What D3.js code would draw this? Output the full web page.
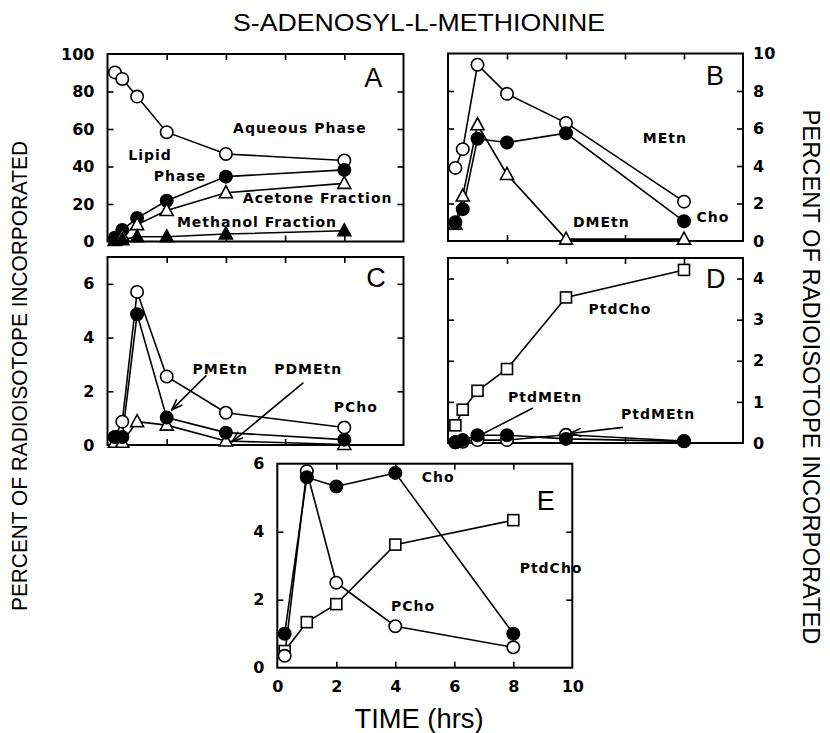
<!DOCTYPE html>
<html>
<head>
<meta charset="utf-8">
<script src="https://cdn.jsdelivr.net/npm/d3@7"></script>
<style>
  body { margin: 0; background: #fff; }
  text { fill: #000; }
</style>
</head>
<body>
<svg id="chart" width="830" height="733"></svg>
<script>
// data
var times = [0.25, 0.5, 1, 2, 4, 8],
    timesE = [0.25, 1, 2, 4, 8];

// A: % of label by phase
var aAqueous = [90.2, 86.7, 77.3, 58.3, 46.7, 43.2],
    aLipid = [2, 6.2, 12.5, 21.7, 34.6, 38.2],
    aAcetone = [1, 3, 9, 16.5, 26, 31],
    aMethanol = [0.5, 1, 2.5, 2.5, 4, 5.7];

// B: bases
var bMEtn = [3.9, 4.9, 9.4, 7.85, 6.3, 2.1],
    bCho = [1.0, 1.7, 5.45, 5.25, 5.75, 1.05],
    bDMEtn = [0.9, 2.4, 6.2, 3.55, 0.1, 0.1];

// C: phospho-bases
var cPCho = [0.3, 0.87, 5.7, 2.55, 1.2, 0.65],
    cPMEtn = [0.3, 0.3, 4.87, 1.02, 0.46, 0.2],
    cPDMEtn = [0.1, 0.1, 0.87, 0.74, 0.15, 0.02];

// D: phosphatides
var dPtdCho = [0.43, 0.81, 1.27, 1.8, 3.54, 4.21],
    dPtdMEtn = [0.02, 0.07, 0.19, 0.19, 0.1, 0.04],
    dPtdDMEtn = [0.02, 0.03, 0.07, 0.07, 0.2, 0.05];

// E: choline metabolites
var eCho = [1.0, 5.6, 5.33, 5.73, 1.0],
    ePCho = [0.35, 5.78, 2.5, 1.22, 0.6],
    ePtdCho = [0.49, 1.34, 1.87, 3.62, 4.34];

var xTicks = [0, 2, 4, 6, 8, 10],
    yTicksA = [0, 20, 40, 60, 80, 100],
    yTicksB = [0, 2, 4, 6, 8, 10],
    yTicksC = [0, 2, 4, 6],
    yTicksD = [0, 1, 2, 3, 4],
    yTicksE = [0, 2, 4, 6];

var svg = d3.select('#chart');

svg.append('defs').append('marker')
    .attr('id', 'arrow')
    .attr('viewBox', '0 0 12 10')
    .attr('refX', 11).attr('refY', 5)
    .attr('markerWidth', 12).attr('markerHeight', 10)
    .attr('markerUnits', 'userSpaceOnUse')
    .attr('orient', 'auto')
  .append('path')
    .attr('d', 'M0,1 L11,5 L0,9')
    .attr('fill', 'none')
    .attr('stroke', '#000')
    .attr('stroke-width', 1.6);

var panels = [
  { name: 'A', left: 107.5, top: 54, w: 296, h: 187.5, ymax: 100, yTicks: yTicksA, labelSide: 'left',
    series: [
      { t: times, v: aAqueous, m: 'circleOpen' },
      { t: times, v: aLipid, m: 'circleFilled' },
      { t: times, v: aAcetone, m: 'triOpen' },
      { t: times, v: aMethanol, m: 'triFilled' }
    ],
    notes: [
      ['Aqueous Phase', 6.5, 57.9], ['Lipid', 1.44, 43.5], ['Phase', 2.45, 32.3],
      ['Acetone Fraction', 7.1, 20.5], ['Methanol Fraction', 5.05, 7.7]
    ],
    letter: [8.98, 82.4], arrows: [] },
  { name: 'B', left: 448, top: 53.5, w: 295, h: 187.5, ymax: 10, yTicks: yTicksB, labelSide: 'right',
    series: [
      { t: times, v: bMEtn, m: 'circleOpen' },
      { t: times, v: bDMEtn, m: 'triOpen' },
      { t: times, v: bCho, m: 'circleFilled' }
    ],
    notes: [['MEtn', 7.35, 5.22], ['Cho', 8.98, 1.0], ['DMEtn', 5.2, 0.75]],
    letter: [9.05, 8.3], arrows: [] },
  { name: 'C', left: 107.5, top: 257, w: 296, h: 188, ymax: 7, yTicks: yTicksC, labelSide: 'left',
    series: [
      { t: times, v: cPCho, m: 'circleOpen' },
      { t: times, v: cPDMEtn, m: 'triOpen' },
      { t: times, v: cPMEtn, m: 'circleFilled' }
    ],
    notes: [['PMEtn', 3.81, 2.66], ['PDMEtn', 6.78, 2.66], ['PCho', 8.39, 1.24]],
    letter: [9.07, 5.89],
    arrows: [[3.34, 2.59, 2.17, 1.31], [6.62, 2.32, 4.21, 0.12]] },
  { name: 'D', left: 448, top: 258, w: 295, h: 185, ymax: 4.5, yTicks: yTicksD, labelSide: 'right',
    series: [
      { t: times, v: dPtdCho, m: 'square' },
      { t: times, v: dPtdDMEtn, m: 'circleOpen' },
      { t: times, v: dPtdMEtn, m: 'circleFilled' }
    ],
    notes: [['PtdCho', 5.83, 3.14], ['PtdMEtn', 3.29, 0.99], ['PtdMEtn', 7.12, 0.58]],
    letter: [9.08, 3.77],
    arrows: [[2.88, 0.85, 0.85, 0.1], [5.93, 0.38, 4.14, 0.23]] },
  { name: 'E', left: 277.3, top: 463.7, w: 295, h: 204, ymax: 6, yTicks: yTicksE, labelSide: 'left', xLabels: true,
    series: [
      { t: timesE, v: ePtdCho, m: 'square' },
      { t: timesE, v: ePCho, m: 'circleOpen' },
      { t: timesE, v: eCho, m: 'circleFilled' }
    ],
    notes: [['Cho', 5.45, 5.46], ['PtdCho', 9.28, 2.79], ['PCho', 4.6, 1.67]],
    letter: [9.1, 4.64], arrows: [] }
];

function drawMarker(g, type, cx, cy) {
  if (type === 'circleOpen' || type === 'circleFilled') {
    g.append('circle').attr('cx', cx).attr('cy', cy).attr('r', 6.2)
      .attr('fill', type === 'circleOpen' ? '#fff' : '#000')
      .attr('stroke', '#000').attr('stroke-width', 1.6);
  } else if (type === 'triOpen' || type === 'triFilled') {
    g.append('path')
      .attr('d', 'M' + cx + ',' + (cy - 7) + 'L' + (cx + 6.5) + ',' + (cy + 5) + 'L' + (cx - 6.5) + ',' + (cy + 5) + 'Z')
      .attr('fill', type === 'triOpen' ? '#fff' : '#000')
      .attr('stroke', '#000').attr('stroke-width', 1.6);
  } else {
    g.append('rect').attr('x', cx - 5.5).attr('y', cy - 5.5).attr('width', 11).attr('height', 11)
      .attr('fill', '#fff').attr('stroke', '#000').attr('stroke-width', 1.6);
  }
}

panels.forEach(function (p) {
  var g = svg.append('g').attr('transform', 'translate(' + p.left + ',' + p.top + ')');
  var x = d3.scaleLinear().domain([0, 10]).range([0, p.w]);
  var y = d3.scaleLinear().domain([0, p.ymax]).range([p.h, 0]);

  var inner = [2, 4, 6, 8];
  var tickFont = function (sel) {
    sel.selectAll('.domain').remove();
    sel.selectAll('.tick line').attr('stroke', '#000').attr('stroke-width', 1.6);
    sel.selectAll('text')
      .attr('font-family', '"DejaVu Sans", sans-serif')
      .attr('font-weight', 'bold')
      .attr('font-size', 16)
      .attr('fill', '#000');
  };

  // bottom + top ticks (inward)
  g.append('g').attr('transform', 'translate(0,' + p.h + ')')
    .call(d3.axisBottom(x).tickValues(p.xLabels ? xTicks : inner).tickSize(-6).tickPadding(13)
      .tickFormat(p.xLabels ? d3.format('d') : ''))
    .call(tickFont)
    .call(function (s) { s.selectAll('.tick').filter(function (d) { return d === 0 || d === 10; }).select('line').remove(); });
  g.append('g')
    .call(d3.axisTop(x).tickValues(inner).tickSize(-6).tickFormat(''))
    .call(tickFont);

  // left + right ticks (inward)
  var innerY = p.yTicks.filter(function (d) { return d > 0 && d < p.ymax; });
  g.append('g')
    .call(d3.axisLeft(y).tickValues(p.labelSide === 'left' ? p.yTicks : innerY).tickSize(-6).tickPadding(13)
      .tickFormat(p.labelSide === 'left' ? d3.format('d') : ''))
    .call(tickFont)
    .call(function (s) { s.selectAll('.tick').filter(function (d) { return d === 0 || d === p.ymax; }).select('line').remove(); });
  g.append('g').attr('transform', 'translate(' + p.w + ',0)')
    .call(d3.axisRight(y).tickValues(p.labelSide === 'right' ? p.yTicks : innerY).tickSize(-6).tickPadding(10)
      .tickFormat(p.labelSide === 'right' ? d3.format('d') : ''))
    .call(tickFont)
    .call(function (s) { s.selectAll('.tick').filter(function (d) { return d === 0 || d === p.ymax; }).select('line').remove(); });

  // frame
  g.append('rect').attr('width', p.w).attr('height', p.h)
    .attr('fill', 'none').attr('stroke', '#000').attr('stroke-width', 2);

  // lines
  var line = d3.line().x(function (d) { return x(d[0]); }).y(function (d) { return y(d[1]); });
  p.series.forEach(function (s) {
    g.append('path')
      .attr('d', line(d3.zip(s.t, s.v)))
      .attr('fill', 'none').attr('stroke', '#000').attr('stroke-width', 1.6);
  });
  // markers on top
  p.series.forEach(function (s) {
    s.t.forEach(function (t, i) { drawMarker(g, s.m, x(t), y(s.v[i])); });
  });

  // annotation labels
  p.notes.forEach(function (n) {
    g.append('text')
      .attr('x', x(n[1])).attr('y', y(n[2]))
      .attr('text-anchor', 'middle')
      .attr('font-family', '"DejaVu Sans", sans-serif')
      .attr('font-weight', 'bold')
      .attr('font-size', 14)
      .attr('letter-spacing', 1)
      .text(n[0]);
  });

  p.arrows.forEach(function (a) {
    g.append('line')
      .attr('x1', x(a[0])).attr('y1', y(a[1]))
      .attr('x2', x(a[2])).attr('y2', y(a[3]))
      .attr('stroke', '#000').attr('stroke-width', 1.6)
      .attr('marker-end', 'url(#arrow)');
  });

  // panel letter
  g.append('text')
    .attr('x', x(p.letter[0])).attr('y', y(p.letter[1]))
    .attr('text-anchor', 'middle')
    .attr('font-family', '"Liberation Sans", sans-serif')
    .attr('font-size', 27)
    .text(p.name);
});

// titles
svg.append('text')
  .attr('x', 419).attr('y', 31)
  .attr('text-anchor', 'middle')
  .attr('font-family', '"Liberation Sans", sans-serif')
  .attr('font-size', 24)
  .attr('textLength', 372).attr('lengthAdjust', 'spacingAndGlyphs')
  .text('S-ADENOSYL-L-METHIONINE');

svg.append('text')
  .attr('x', 419).attr('y', 728)
  .attr('text-anchor', 'middle')
  .attr('font-family', '"Liberation Sans", sans-serif')
  .attr('font-size', 27)
  .attr('textLength', 129).attr('lengthAdjust', 'spacingAndGlyphs')
  .text('TIME (hrs)');

svg.append('text')
  .attr('transform', 'translate(27,376) rotate(-90)')
  .attr('text-anchor', 'middle')
  .attr('font-family', '"Liberation Sans", sans-serif')
  .attr('font-size', 22)
  .attr('textLength', 470).attr('lengthAdjust', 'spacingAndGlyphs')
  .text('PERCENT OF RADIOISOTOPE INCORPORATED');

svg.append('text')
  .attr('transform', 'translate(803,377) rotate(90)')
  .attr('text-anchor', 'middle')
  .attr('font-family', '"Liberation Sans", sans-serif')
  .attr('font-size', 24)
  .attr('textLength', 535).attr('lengthAdjust', 'spacingAndGlyphs')
  .text('PERCENT OF RADIOISOTOPE INCORPORATED');
</script>
</body>
</html>
